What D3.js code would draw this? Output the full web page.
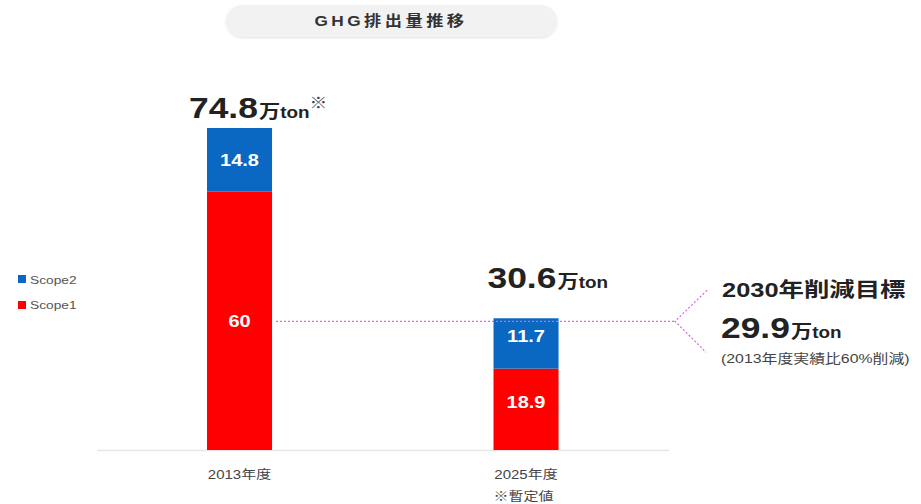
<!DOCTYPE html>
<html>
<head>
<meta charset="utf-8">
<script src="https://cdn.jsdelivr.net/npm/d3@7"></script>
<style>
	body { margin: 0; background: #fff; }
	#chart { width: 921px; height: 504px; }
	text { font-family: "Liberation Sans", Arial, "Noto Sans CJK JP", sans-serif; }
</style>
</head>
<body>
<div id="chart"></div>
<script>
// data
var years = ["2013年度", "2025年度"];
var scope1 = [60, 18.9];
var scope2 = [14.8, 11.7];
var totals = ["74.8", "30.6"];
var target = 29.9;
var seriesNames = ["Scope2", "Scope1"];
var colors = { Scope1: "#ff0000", Scope2: "#0a68c2" };

var width = 921, height = 504;
var svg = d3.select("#chart")
	.append("svg")
	.attr("width", width)
	.attr("height", height);

// the original picture is a bit wide, so text gets stretched sideways
function stext(x, y, sx) {
	return svg.append("g")
		.attr("transform", "translate(" + x + "," + y + ") scale(" + sx + ",1)")
		.append("text");
}

var x = d3.scaleBand()
	.domain(years)
	.range([63.75, 701.8])
	.paddingInner(0.773)
	.paddingOuter(0.5);

var y = d3.scaleLinear()
	.domain([0, 74.8])
	.range([450, 128]);

// title pill
var defs = svg.append("defs");
var f = defs.append("filter").attr("id", "sh").attr("x", "-10%").attr("y", "-30%").attr("width", "120%").attr("height", "160%");
f.append("feDropShadow").attr("dx", 0).attr("dy", 1).attr("stdDeviation", 1.2).attr("flood-color", "#000").attr("flood-opacity", 0.12);
svg.append("rect")
	.attr("x", 226).attr("y", 5)
	.attr("width", 331).attr("height", 32)
	.attr("rx", 16)
	.attr("fill", "#f2f2f2")
	.attr("filter", "url(#sh)");
stext(391, 26, 1.15)
	.attr("text-anchor", "middle")
	.attr("font-size", 15)
	.attr("font-weight", "bold")
	.attr("letter-spacing", 3)
	.attr("fill", "#333")
	.text("GHG排出量推移");

// axis line
svg.append("line")
	.attr("x1", 97).attr("x2", 669)
	.attr("y1", 450.5).attr("y2", 450.5)
	.attr("stroke", "#e6e6e6")
	.attr("stroke-width", 1.5);

// stacked bars
var rows = years.map(function(d, i) {
	return { year: d, Scope1: scope1[i], Scope2: scope2[i] };
});
var stack = d3.stack().keys(["Scope1", "Scope2"])(rows);

stack.forEach(function(layer) {
	svg.append("g")
		.selectAll("rect")
		.data(layer)
		.enter()
		.append("rect")
		.attr("x", function(d) { return x(d.data.year); })
		.attr("y", function(d) { return y(d[1]); })
		.attr("width", x.bandwidth())
		.attr("height", function(d) { return y(d[0]) - y(d[1]); })
		.attr("fill", colors[layer.key]);

	layer.forEach(function(d) {
		var cy = (y(d[0]) + y(d[1])) / 2;
		// the small 2025 blocks have their labels pulled up a little
		if (d.data.year == years[1]) cy -= 7;
		stext(x(d.data.year) + x.bandwidth() / 2, cy + 6, 1.25)
			.attr("text-anchor", "middle")
			.attr("font-size", 16)
			.attr("font-weight", "bold")
			.attr("fill", "#fff")
			.text(d.data[layer.key]);
	});
});

// totals
function amount(t, v) {
	t.append("tspan").attr("font-size", 30).text(v);
	t.append("tspan").attr("font-size", 18).attr("dx", 1).text("万");
	t.append("tspan").attr("font-size", 16).text("ton");
}
years.forEach(function(yr, i) {
	var t = stext(x(yr) - (i == 0 ? 18 : 6), y(+totals[i]) - (i == 0 ? 10 : 30), 1.18)
		.attr("font-weight", "bold")
		.attr("fill", "#222");
	amount(t, totals[i]);
	if (i == 0) {
		t.append("tspan").attr("font-size", 15).attr("dy", -10).attr("fill", "#444").text("※");
	}
});

// target dashed line + bracket
var ty = y(target);
svg.append("line")
	.attr("x1", x(years[0]) + x.bandwidth() + 4)
	.attr("x2", 675)
	.attr("y1", ty).attr("y2", ty)
	.attr("stroke", "#d36ad3")
	.attr("stroke-width", 1.2)
	.attr("stroke-dasharray", "2,2");
svg.append("path")
	.attr("d", "M707," + (ty - 31) + "L675," + ty + "L706," + (ty + 31))
	.attr("fill", "none")
	.attr("stroke", "#d36ad3")
	.attr("stroke-width", 1.2)
	.attr("stroke-dasharray", "2,2");

// target text
stext(722, 297, 1.27)
	.attr("font-size", 20)
	.attr("font-weight", "bold")
	.attr("fill", "#222")
	.text("2030年削減目標");
var tt = stext(721, 338, 1.18)
	.attr("font-weight", "bold")
	.attr("fill", "#222");
amount(tt, target);
stext(721, 363, 1.22)
	.attr("font-size", 13)
	.attr("fill", "#444")
	.text("(2013年度実績比60%削減)");

// legend
seriesNames.forEach(function(s, i) {
	svg.append("rect")
		.attr("x", 18).attr("y", 275 + i * 26)
		.attr("width", 8).attr("height", 8)
		.attr("fill", colors[s]);
	stext(30, 284 + i * 25, 1.25)
		.attr("font-size", 11)
		.attr("fill", "#555")
		.text(s);
});

// x labels
years.forEach(function(yr) {
	stext(x(yr) + x.bandwidth() / 2, 479, 1.25)
		.attr("text-anchor", "middle")
		.attr("font-size", 12)
		.attr("fill", "#444")
		.text(yr);
});
stext(x(years[1]), 501, 1.25)
	.attr("font-size", 12)
	.attr("fill", "#444")
	.text("※暫定値");
</script>
</body>
</html>
